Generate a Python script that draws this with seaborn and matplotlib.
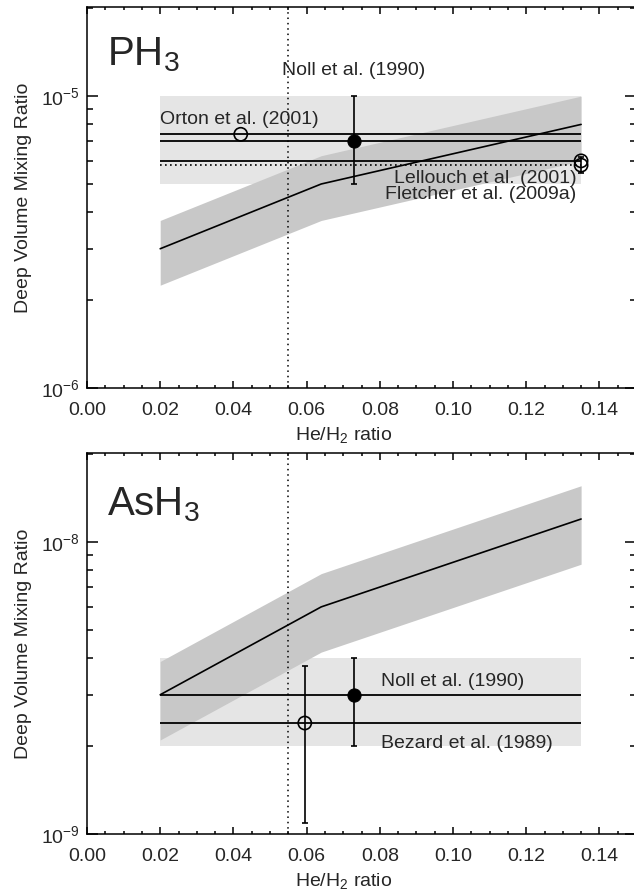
import matplotlib
matplotlib.use("Agg")
import matplotlib.pyplot as plt
import seaborn as sns
import pandas as pd
from matplotlib.ticker import MultipleLocator, LogLocator, NullFormatter, LogFormatterSciNotation

# ---------------- data ----------------
he_h2_model = [0.02, 0.064, 0.135]
ph3_model = [3.0e-6, 5.0e-6, 8.0e-6]
ph3_model_low = [2.25e-6, 3.75e-6, 6.0e-6]
ph3_model_high = [3.75e-6, 6.25e-6, 1.0e-5]
ash3_model = [3.0e-9, 6.0e-9, 1.2e-8]
ash3_model_low = [2.1e-9, 4.2e-9, 8.4e-9]
ash3_model_high = [3.9e-9, 7.8e-9, 1.56e-8]

obs_span = [0.02, 0.135]
ph3_obs_range = [5.0e-6, 1.0e-5]
ash3_obs_range = [2.0e-9, 4.0e-9]

ph3_solid_levels = [7.4e-6, 7.0e-6, 6.0e-6]
ph3_dotted_levels = [5.8e-6]
ash3_levels = [3.0e-9, 2.4e-9]

solar_he_h2 = 0.055

# observations: x, y, lower, upper, filled
ph3_obs_x = [0.042, 0.073, 0.135, 0.135]
ph3_obs_y = [7.4e-6, 7.0e-6, 6.0e-6, 5.8e-6]
ph3_obs_lo = [7.4e-6, 5.0e-6, 6.0e-6, 5.45e-6]
ph3_obs_hi = [7.4e-6, 1.0e-5, 6.0e-6, 6.2e-6]
ph3_obs_filled = [False, True, False, False]

ash3_obs_x = [0.0595, 0.073]
ash3_obs_y = [2.4e-9, 3.0e-9]
ash3_obs_lo = [1.09e-9, 2.0e-9]
ash3_obs_hi = [3.77e-9, 4.0e-9]
ash3_obs_filled = [False, True]

ph3_labels = ["Noll et al. (1990)", "Orton et al. (2001)",
              "Lellouch et al. (2001)", "Fletcher et al. (2009a)"]
ph3_label_x = [0.0728, 0.0200, 0.1338, 0.1338]
ph3_label_y = [1.22e-5, 8.33e-6, 5.22e-6, 4.62e-6]
ph3_label_ha = ["center", "left", "right", "right"]

ash3_labels = ["Noll et al. (1990)", "Bezard et al. (1989)"]
ash3_label_x = [0.0804, 0.0804]
ash3_label_y = [3.32e-9, 2.05e-9]
ash3_label_ha = ["left", "left"]

xticks = [0.00, 0.02, 0.04, 0.06, 0.08, 0.10, 0.12, 0.14]

# ---------------- style ----------------
sns.set_theme(style="ticks")
plt.rcParams['font.family'] = ['Liberation Sans', 'DejaVu Sans']
plt.rcParams['mathtext.fontset'] = 'custom'
plt.rcParams['mathtext.rm'] = 'Liberation Sans'
plt.rcParams['mathtext.it'] = 'Liberation Sans:italic'
plt.rcParams['mathtext.bf'] = 'Liberation Sans:bold'
plt.rcParams['axes.linewidth'] = 1.1

LIGHT = '#e5e5e5'
DARK = '#c8c8c8'
FS = 14

fig = plt.figure(figsize=(6.34, 8.92), dpi=100)
ax1 = fig.add_axes([87 / 634, 504 / 892, 549 / 634, 381 / 892])
ax2 = fig.add_axes([87 / 634, 58 / 892, 549 / 634, 381 / 892])


def draw_panel(ax, ylim, obs_range, model, lo, hi, solid_levels, dotted_levels,
               ox, oy, olo, ohi, ofill, labels, lx, ly, lha, name, name_y):
    ax.set_yscale('log')
    ax.set_xlim(0, 0.15)
    ax.set_ylim(*ylim)
    # observed range box
    ax.fill_between(obs_span, [obs_range[0]] * 2, [obs_range[1]] * 2,
                    color=LIGHT, lw=0, zorder=1)
    # model band
    ax.fill_between(he_h2_model, lo, hi, color=DARK, lw=0, zorder=2)
    df = pd.DataFrame({'x': he_h2_model, 'y': model})
    sns.lineplot(data=df, x='x', y='y', ax=ax, color='black', lw=1.2,
                 zorder=4, sort=False)
    for lev in solid_levels:
        ax.hlines(lev, obs_span[0], obs_span[1], color='black', lw=1.3, zorder=3)
    for lev in dotted_levels:
        ax.hlines(lev, obs_span[0], obs_span[1], color='black', lw=1.2,
                  linestyles=(0, (1, 2)), zorder=3)
    ax.axvline(solar_he_h2, color='black', lw=1.1, ls=(0, (1, 2.5)), zorder=3)
    for x, y, l, h, f in zip(ox, oy, olo, ohi, ofill):
        if h > l:
            ax.errorbar([x], [y], yerr=[[y - l], [h - y]], fmt='none',
                        ecolor='black', elinewidth=1.2, capsize=2.5,
                        capthick=1.2, zorder=5)
    pts = pd.DataFrame({'x': ox, 'y': oy, 'f': ofill})
    filled = pts[pts.f]
    opened = pts[~pts.f]
    sns.scatterplot(data=filled, x='x', y='y', ax=ax, s=90, color='black',
                    edgecolor='black', zorder=6, legend=False)
    sns.scatterplot(data=opened, x='x', y='y', ax=ax, s=90, facecolor='none',
                    edgecolor='black', linewidth=1.2, zorder=6, legend=False)
    for t, x, y, ha in zip(labels, lx, ly, lha):
        ax.text(x, y, t, ha=ha, va='center', fontsize=FS, zorder=7)
    ax.text(0.0054, name_y, name, ha='left', va='center', fontsize=29, zorder=7)

    ax.set_xticks(xticks)
    ax.xaxis.set_minor_locator(MultipleLocator(0.005))
    ax.set_xticklabels([f"{v:.2f}" for v in xticks])
    ax.yaxis.set_major_locator(LogLocator(base=10))
    ax.yaxis.set_minor_locator(LogLocator(base=10, subs=range(2, 10)))
    ax.yaxis.set_major_formatter(LogFormatterSciNotation())
    ax.yaxis.set_minor_formatter(NullFormatter())
    ax.tick_params(which='both', direction='in', top=True, right=True,
                   labelsize=FS, color='black', width=1.1)
    ax.tick_params(axis='x', which='major', length=5, pad=10)
    ax.tick_params(axis='x', which='minor', length=2.5)
    ax.tick_params(axis='y', which='major', length=8, pad=5)
    ax.tick_params(axis='y', which='minor', length=4)
    ax.set_xlabel('He/H$_2$ ratio', fontsize=FS)
    ax.set_ylabel('Deep Volume Mixing Ratio', fontsize=FS)
    ax.xaxis.set_label_coords(0.468, -0.098)
    ax.yaxis.set_label_coords(-0.100, 0.5)
    for sp in ax.spines.values():
        sp.set_color('black')


draw_panel(ax1, (1e-6, 2.02e-5), ph3_obs_range, ph3_model, ph3_model_low,
           ph3_model_high, ph3_solid_levels, ph3_dotted_levels,
           ph3_obs_x, ph3_obs_y, ph3_obs_lo, ph3_obs_hi, ph3_obs_filled,
           ph3_labels, ph3_label_x, ph3_label_y, ph3_label_ha,
           'PH$_3$', 1.39e-5)
draw_panel(ax2, (1e-9, 2.02e-8), ash3_obs_range, ash3_model, ash3_model_low,
           ash3_model_high, ash3_levels, [],
           ash3_obs_x, ash3_obs_y, ash3_obs_lo, ash3_obs_hi, ash3_obs_filled,
           ash3_labels, ash3_label_x, ash3_label_y, ash3_label_ha,
           'AsH$_3$', 1.34e-8)

fig.savefig('out.png', dpi=100)
